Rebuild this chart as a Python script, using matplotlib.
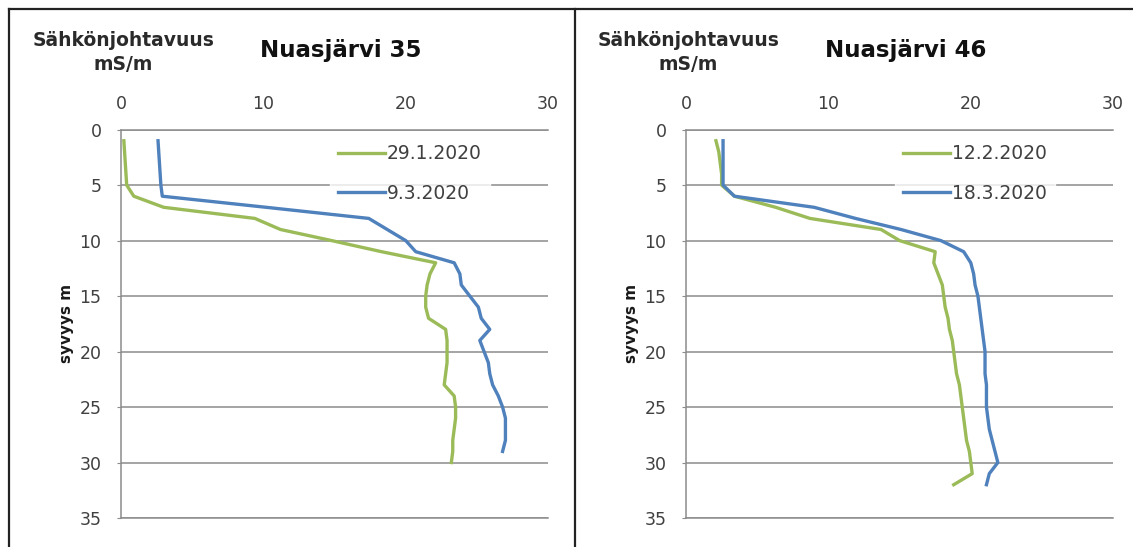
import matplotlib.pyplot as plt
from matplotlib.lines import Line2D

# depth profiles, conductivity mS/m vs depth m
depth_35_jan = list(range(1, 31))
cond_35_jan = [0.2, 0.25, 0.3, 0.35, 0.4, 0.9, 3.0, 9.4, 11.2, 14.8,
               18.3, 22.1, 21.7, 21.5, 21.4, 21.4, 21.6, 22.8, 22.9, 22.9,
               22.9, 22.8, 22.7, 23.4, 23.5, 23.5, 23.4, 23.3, 23.3, 23.2]
depth_35_mar = list(range(1, 30))
cond_35_mar = [2.6, 2.65, 2.7, 2.75, 2.8, 2.9, 10.2, 17.4, 18.7, 20.0,
               20.7, 23.4, 23.8, 23.9, 24.5, 25.1, 25.3, 25.9, 25.2, 25.5,
               25.8, 25.9, 26.1, 26.5, 26.8, 27.0, 27.0, 27.0, 26.8]

depth_46_feb = list(range(1, 33))
cond_46_feb = [2.1, 2.3, 2.4, 2.5, 2.5, 3.4, 6.3, 8.7, 13.7, 15.0,
               17.5, 17.4, 17.7, 18.0, 18.1, 18.2, 18.4, 18.5, 18.7, 18.8,
               18.9, 19.0, 19.2, 19.3, 19.4, 19.5, 19.6, 19.7, 19.9, 20.0,
               20.1, 18.8]
depth_46_mar = list(range(1, 33))
cond_46_mar = [2.6, 2.6, 2.6, 2.6, 2.6, 3.4, 9.0, 11.9, 15.1, 17.9,
               19.5, 20.0, 20.2, 20.3, 20.5, 20.6, 20.7, 20.8, 20.9, 21.0,
               21.0, 21.0, 21.1, 21.1, 21.1, 21.2, 21.3, 21.5, 21.7, 21.9,
               21.3, 21.1]

x_ticks = [0, 10, 20, 30]
y_ticks = [0, 5, 10, 15, 20, 25, 30, 35]

GREEN = "#9BBB59"
BLUE = "#4F81BD"
GRID = "#8c8c8c"
TXT = "#404040"

plt.rcParams['font.family'] = ['DejaVu Sans']

fig = plt.figure(figsize=(11.33, 5.47), dpi=100)

panels = [
    (0.1068, "Nuasjärvi 35", depth_35_jan, cond_35_jan, "29.1.2020",
     depth_35_mar, cond_35_mar, "9.3.2020"),
    (0.6055, "Nuasjärvi 46", depth_46_feb, cond_46_feb, "12.2.2020",
     depth_46_mar, cond_46_mar, "18.3.2020"),
]

for left, title, d1, c1, lab1, d2, c2, lab2 in panels:
    ax = fig.add_axes([left, 0.053, 0.377, 0.710])
    ax.plot(c1, d1, color=GREEN, lw=2.4, label=lab1, solid_joinstyle='round')
    ax.plot(c2, d2, color=BLUE, lw=2.4, label=lab2, solid_joinstyle='round')
    ax.set_xlim(0, 30)
    ax.set_ylim(35, 0)
    ax.set_xticks(x_ticks)
    ax.set_yticks(y_ticks)
    ax.xaxis.tick_top()
    ax.tick_params(axis='x', length=0, pad=12, labelsize=12.5, labelcolor=TXT)
    ax.tick_params(axis='y', length=3, color=GRID, pad=11, labelsize=12.5,
                   labelcolor=TXT)
    ax.grid(axis='y', color=GRID, lw=1.1)
    ax.set_axisbelow(True)
    for s in ['top', 'bottom', 'left']:
        ax.spines[s].set_color(GRID)
        ax.spines[s].set_linewidth(1.1)
    ax.spines['right'].set_visible(False)
    ax.set_ylabel("syvyys m", fontsize=11, fontweight='bold', labelpad=4,
                  color='#1a1a1a')
    ax.text(0.006, 1.198, "Sähkönjohtavuus\nmS/m", transform=ax.transAxes,
            ha='center', va='center', fontsize=13.5, fontweight='bold',
            linespacing=1.33, color='#2a2a2a')
    ax.text(0.515, 1.205, title, transform=ax.transAxes, ha='center',
            va='center', fontsize=16.5, fontweight='bold', color='#111111')
    leg = ax.legend(loc='upper left', bbox_to_anchor=(0.4885, 0.984),
                    borderaxespad=0, frameon=True, fancybox=False,
                    fontsize=13.5, handlelength=2.5, handletextpad=0.1,
                    labelspacing=1.1, borderpad=0.45)
    leg.get_frame().set_facecolor('white')
    leg.get_frame().set_edgecolor('white')
    for t in leg.get_texts():
        t.set_color(TXT)

# outer frame of the two pasted charts
fig.add_artist(Line2D([9 / 1133, 1], [1 - 9 / 547, 1 - 9 / 547],
                      color='#222222', lw=1.6))
fig.add_artist(Line2D([9 / 1133, 9 / 1133], [0, 1 - 9 / 547],
                      color='#222222', lw=1.6))
fig.add_artist(Line2D([575 / 1133, 575 / 1133], [0, 1 - 9 / 547],
                      color='#222222', lw=1.6))

fig.savefig("out.png", dpi=100)
